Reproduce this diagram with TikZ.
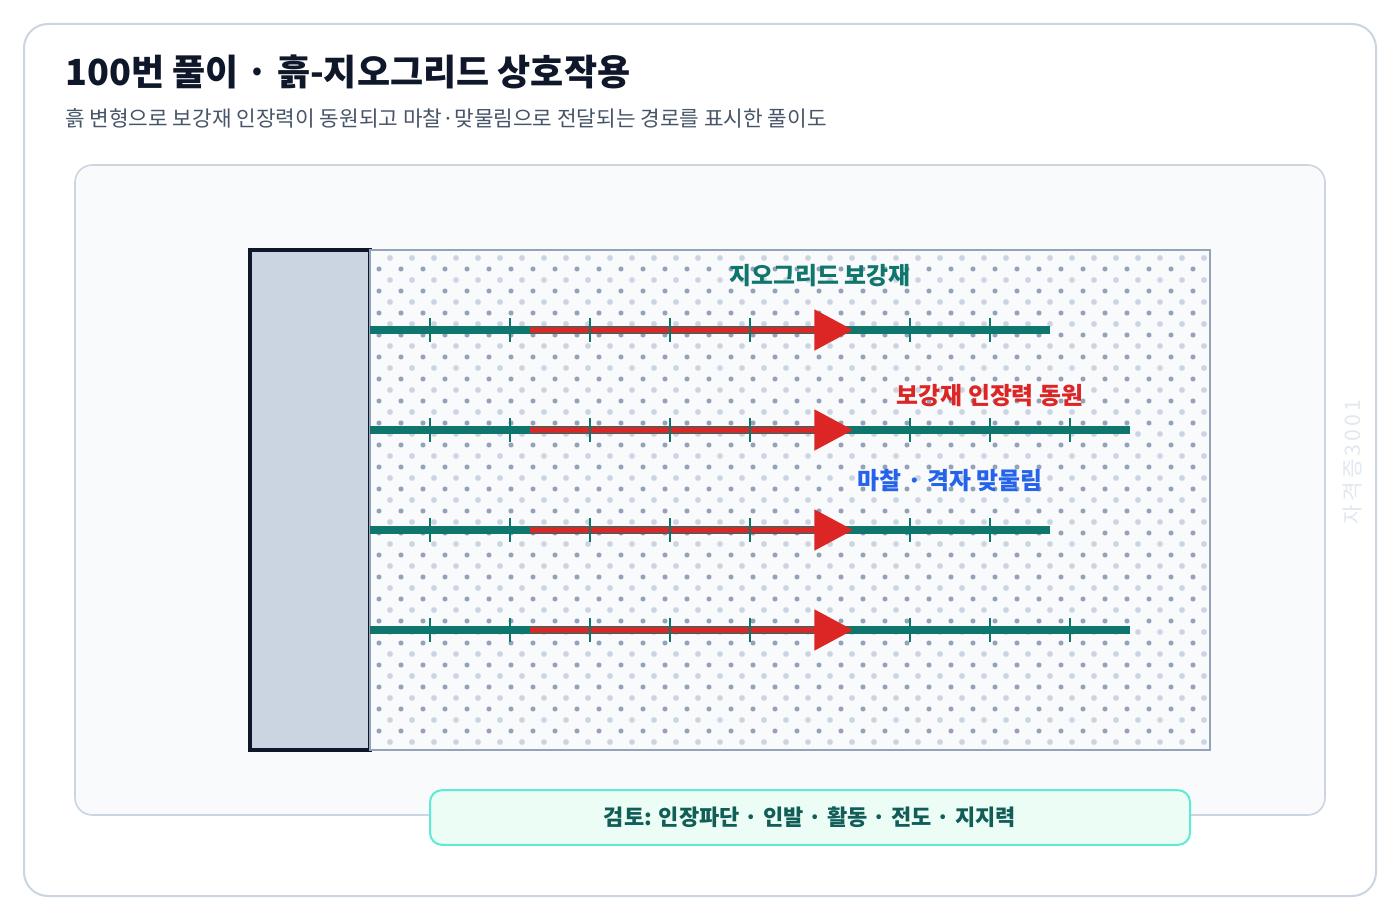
\documentclass[tikz,border=0pt]{standalone}
\usepackage{fontspec}
\setmainfont{Noto Sans CJK KR}
\usetikzlibrary{arrows.meta}
\definecolor{ink}{HTML}{0F172A}
\definecolor{subink}{HTML}{475569}
\definecolor{edge}{HTML}{CBD5E1}
\definecolor{panel}{HTML}{F8FAFC}
\definecolor{soiledge}{HTML}{94A3B8}
\definecolor{geo}{HTML}{0F766E}
\definecolor{pullred}{HTML}{DC2626}
\definecolor{fricblue}{HTML}{2563EB}
\definecolor{checkedge}{HTML}{5EEAD4}
\definecolor{checkfill}{HTML}{ECFDF5}
\definecolor{checkink}{HTML}{115E59}
\definecolor{wmark}{HTML}{E2E8F0}

\begin{document}
\begin{tikzpicture}[x=0.75pt,y=-0.75pt,
  geoline/.style={draw=geo,line width=5.6pt},
  geotick/.style={draw=geo,line width=2pt},
  pull/.style={draw=pullred,line width=4pt,-{Triangle[length=29pt,width=30pt]}},
  tag/.style={font=\bfseries\fontsize{17.9}{21}\selectfont,inner sep=0pt}]
\fill[white] (0,0) rectangle (1400,920);
\draw[edge,line width=1.5pt,fill=white,rounded corners=18pt] (24,24) rectangle (1376,896);
\draw[edge,line width=1.2pt,fill=panel,rounded corners=13pt] (75,165) rectangle (1325,815);

\node[anchor=west,inner sep=0pt,text=ink,font=\bfseries\fontsize{27}{32}\selectfont] (title) at (65,72) {100번 풀이 · 흙-지오그리드 상호작용};
\node[anchor=west,inner sep=0pt,text=subink,font=\fontsize{16}{19}\selectfont] (subtitle) at (65,118) {흙 변형으로 보강재 인장력이 동원되고 마찰·맞물림으로 전달되는 경로를 표시한 풀이도};

\draw[ink,line width=3.4pt,fill=edge] (250,250) rectangle (370,750);
\draw[soiledge,line width=1.9pt,fill=panel] (370,250) rectangle (1210,750);
\fill[edge] \foreach \i in {0,...,37} {\foreach \j in {0,...,22} {(390+22*\i,258+22*\j) circle[radius=2.2pt]}};
\fill[soiledge] \foreach \i in {0,...,37} {\foreach \j in {0,...,21} {(379+22*\i,269+22*\j) circle[radius=1.9pt]}};

\foreach \y/\e/\ticks in {330/1050/{430,510,590,670,750,910,990},430/1130/{430,510,590,670,750,910,990,1070},530/1050/{430,510,590,670,750,910,990},630/1130/{430,510,590,670,750,910,990,1070}} {
  \draw[geoline] (370,\y) -- (\e,\y);
  \draw[pull] (530,\y) -- (853,\y);
  \foreach \x in \ticks
    \draw[geotick] (\x,\y-12) -- (\x,\y+12);
}

\node[tag,text=geo] (lblgeo) at (820,276) {지오그리드 보강재};
\node[tag,text=pullred] (lblpull) at (990,396) {보강재 인장력 동원};
\node[tag,text=fricblue] (lblfric) at (950,481) {마찰 · 격자 맞물림};

\node[draw=checkedge,fill=checkfill,line width=1.5pt,rounded corners=9pt,minimum width=570pt,minimum height=41pt,text=checkink,font=\bfseries\fontsize{16.5}{19}\selectfont] (check) at (810,817.5) {검토: 인장파단 · 인발 · 활동 · 전도 · 지지력};

\node[rotate=90,text=wmark,font=\fontsize{16}{18}\selectfont\addfontfeature{LetterSpace=14}] (mark) at (1352,462) {자격증3001};
\end{tikzpicture}
\end{document}
